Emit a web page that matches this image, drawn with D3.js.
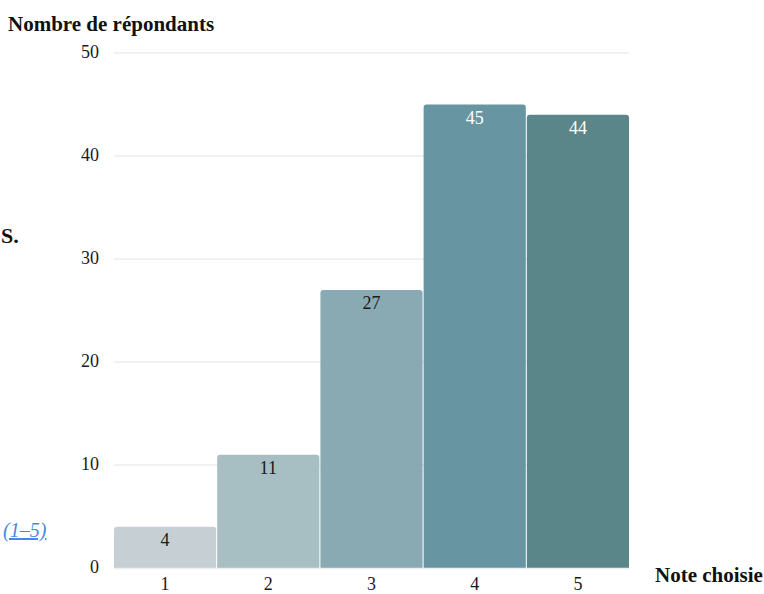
<!DOCTYPE html>
<html><head><meta charset="utf-8">
<script src="https://cdn.jsdelivr.net/npm/d3@7"></script>
<style>body{margin:0;background:#fff;overflow:hidden}</style>
</head><body>
<svg id="c" width="764" height="594"></svg>
<script>
const categories = ["1","2","3","4","5"];
const values = [4, 11, 27, 45, 44];
const colors = ["#c6cfd3","#a7bec3","#89aab2","#6795a2","#5b8689"];
const labelColors = ["#1a1a1a","#1a1a1a","#1a1a1a","#ffffff","#ffffff"];
const yTicks = [0,10,20,30,40,50];

const svg = d3.select("#c");
const serif = "'Liberation Serif','DejaVu Serif',serif";
const x = d3.scaleBand().domain(categories).range([114,629]).paddingInner(0.01).paddingOuter(0);
const y = d3.scaleLinear().domain([0,50]).range([568,53]);

// grid
svg.append("g").selectAll("line").data(yTicks.filter(d=>d>0)).join("line")
  .attr("x1",114).attr("x2",629).attr("y1",d=>y(d)).attr("y2",d=>y(d))
  .attr("stroke","#e3e3e3").attr("stroke-width",1);

// bars with rounded top corners
const r = 3;
svg.append("g").selectAll("path").data(values).join("path")
  .attr("fill",(d,i)=>colors[i])
  .attr("d",(d,i)=>{
    const x0 = x(categories[i]), w = x.bandwidth(), y0 = y(d), yb = y(0);
    return `M${x0},${yb}V${y0+r}Q${x0},${y0} ${x0+r},${y0}H${x0+w-r}Q${x0+w},${y0} ${x0+w},${y0+r}V${yb}Z`;
  });

// baseline
svg.append("line").attr("x1",114).attr("x2",629).attr("y1",y(0)+0.5).attr("y2",y(0)+0.5)
  .attr("stroke","#eeeeee").attr("stroke-width",1.5);

// value labels
svg.append("g").selectAll("text").data(values).join("text")
  .attr("x",(d,i)=>x(categories[i])+x.bandwidth()/2)
  .attr("y",d=>y(d)+19)
  .attr("text-anchor","middle").attr("font-family",serif).attr("font-size",18)
  .attr("fill",(d,i)=>labelColors[i]).text(d=>d);

// y axis labels
svg.append("g").selectAll("text").data(yTicks).join("text")
  .attr("x",99).attr("y",d=>y(d)+5).attr("text-anchor","end")
  .attr("font-family",serif).attr("font-size",18).attr("fill","#1a1a1a").text(d=>d);

// x axis labels
svg.append("g").selectAll("text").data(categories).join("text")
  .attr("x",d=>x(d)+x.bandwidth()/2).attr("y",590).attr("text-anchor","middle")
  .attr("font-family",serif).attr("font-size",18).attr("fill","#1a1a1a").text(d=>d);

// axis titles
svg.append("text").attr("x",8).attr("y",31).attr("font-family",serif).attr("font-weight","bold")
  .attr("font-size",21).attr("fill","#111").text("Nombre de répondants");
svg.append("text").attr("x",655).attr("y",582).attr("font-family",serif).attr("font-weight","bold")
  .attr("font-size",21).attr("fill","#111").text("Note choisie");

// stray page text
svg.append("text").attr("x",1).attr("y",243).attr("font-family",serif).attr("font-weight","bold")
  .attr("font-size",22).attr("fill","#111").text("S.");
svg.append("text").attr("x",3).attr("y",537).attr("font-family",serif)
  .attr("font-style","italic").attr("font-size",20).attr("fill","#4a86e8")
  .attr("text-decoration","underline").text("(1–5)");
</script>
</body></html>
